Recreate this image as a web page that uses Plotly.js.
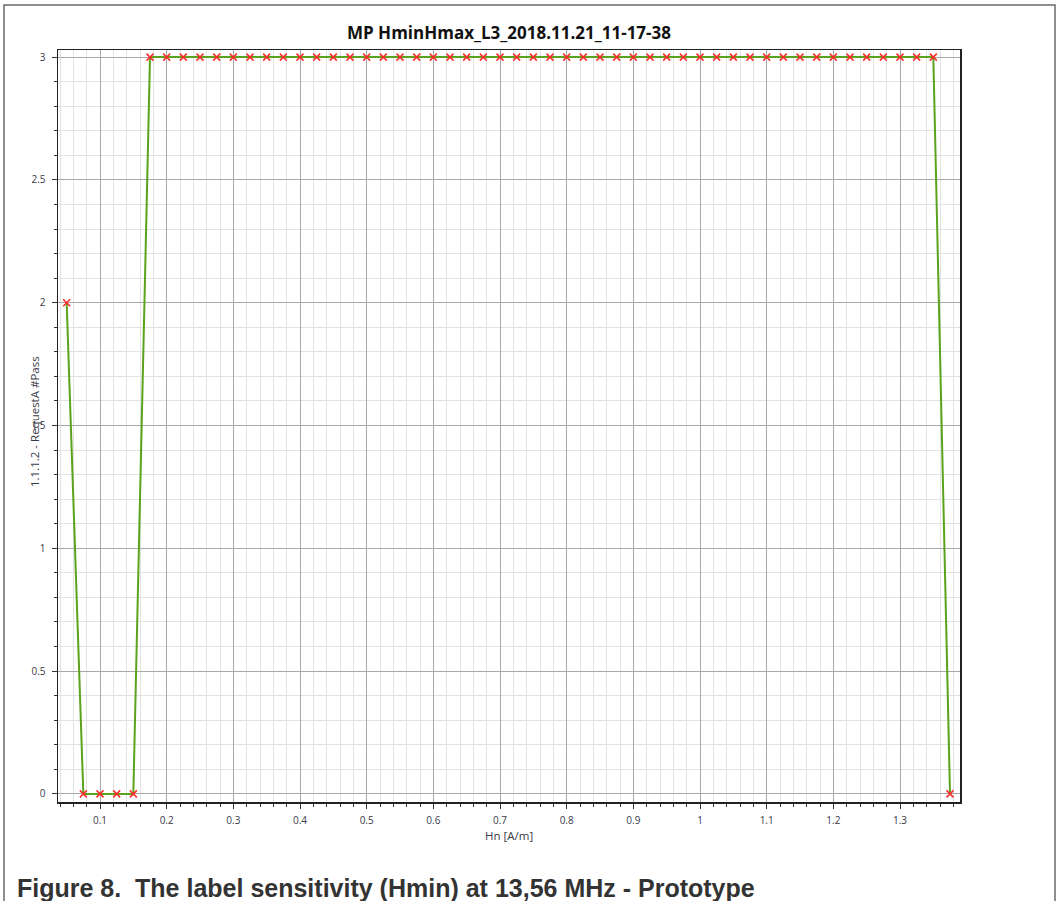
<!DOCTYPE html>
<html>
<head>
<meta charset="utf-8">
<script src="https://cdn.plot.ly/plotly-3.0.1.min.js"></script>
<style>
html,body{margin:0;padding:0;background:#fff;}
#chart{width:1061px;height:901px;}
</style>
</head>
<body>
<div id="chart"></div>
<script>
// Data
var hn = [0.05, 0.075, 0.1, 0.125, 0.15, 0.175, 0.2, 0.225, 0.25, 0.275,
          0.3, 0.325, 0.35, 0.375, 0.4, 0.425, 0.45, 0.475, 0.5, 0.525,
          0.55, 0.575, 0.6, 0.625, 0.65, 0.675, 0.7, 0.725, 0.75, 0.775,
          0.8, 0.825, 0.85, 0.875, 0.9, 0.925, 0.95, 0.975, 1.0, 1.025,
          1.05, 1.075, 1.1, 1.125, 1.15, 1.175, 1.2, 1.225, 1.25, 1.275,
          1.3, 1.325, 1.35, 1.375];
var passCount = [2, 0, 0, 0, 0, 3, 3, 3, 3, 3,
                 3, 3, 3, 3, 3, 3, 3, 3, 3, 3,
                 3, 3, 3, 3, 3, 3, 3, 3, 3, 3,
                 3, 3, 3, 3, 3, 3, 3, 3, 3, 3,
                 3, 3, 3, 3, 3, 3, 3, 3, 3, 3,
                 3, 3, 3, 0];
var chartTitle = "MP HminHmax_L3_2018.11.21_11-17-38";
var xTitle = "Hn [A/m]";
var yTitle = "1.1.1.2 - RequestA #Pass";
var caption = "Figure 8.  The label sensitivity (Hmin) at 13,56 MHz - Prototype";

// Layout geometry (pixels)
var W = 1061, H = 901;
var mL = 58, mR = 101, mT = 50, mB = 99;
var pw = W - mL - mR, ph = H - mT - mB;
function px(x){ return (x - mL) / pw; }
function py(y){ return (H - mB - y) / ph; }

var tickFont = {family: "Open Sans, Noto Sans, sans-serif", size: 10, color: "#3a3a48"};

var trace = {
  x: hn, y: passCount, type: "scatter", mode: "lines+markers",
  line: {color: "#5ba31c", width: 2},
  marker: {symbol: "x-thin", size: 7, color: "#ff2a2a", line: {color: "#ff2a2a", width: 1.5}},
  hoverinfo: "x+y"
};

var layout = {
  width: W, height: H,
  margin: {l: mL, r: mR, t: mT, b: mB, pad: 0},
  paper_bgcolor: "#ffffff",
  plot_bgcolor: "#ffffff",
  showlegend: false,
  title: {
    text: "<b>" + chartTitle + "</b>",
    font: {family: "Open Sans, Noto Sans, sans-serif", size: 17, color: "#111111"},
    x: 0.5, xref: "paper", xanchor: "center",
    y: 1 - 33 / H, yref: "container", yanchor: "middle"
  },
  xaxis: {
    range: [0.037, 1.39],
    tick0: 0, dtick: 0.1,
    ticks: "outside", ticklen: 5, tickwidth: 1, tickcolor: "#333333",
    tickfont: tickFont,
    ticklabelstandoff: 3,
    showgrid: true, gridcolor: "#a8a8a8", gridwidth: 1,
    minor: {tick0: 0, dtick: 0.02, ticks: "outside", ticklen: 3, tickcolor: "#333333",
            showgrid: true, gridcolor: "#e2e2e2", gridwidth: 1},
    showline: true, linecolor: "#222222", linewidth: 1.5, mirror: true,
    zeroline: false
  },
  yaxis: {
    range: [-0.033, 3.029],
    tick0: 0, dtick: 0.5,
    ticks: "outside", ticklen: 5, tickwidth: 1, tickcolor: "#333333",
    tickfont: tickFont,
    ticklabelstandoff: 4,
    showgrid: true, gridcolor: "#a8a8a8", gridwidth: 1,
    minor: {tick0: 0, dtick: 0.1, ticks: "outside", ticklen: 3, tickcolor: "#333333",
            showgrid: true, gridcolor: "#e2e2e2", gridwidth: 1},
    showline: true, linecolor: "#222222", linewidth: 1.5, mirror: true,
    zeroline: false
  },
  annotations: [
    {text: yTitle, xref: "paper", yref: "paper", x: px(34), y: py(422),
     xanchor: "center", yanchor: "middle", textangle: -90, showarrow: false,
     font: {family: "Open Sans, Noto Sans, sans-serif", size: 11.5, color: "#3a3a48"}},
    {text: xTitle, xref: "paper", yref: "paper", x: px(509), y: py(835),
     xanchor: "center", yanchor: "middle", showarrow: false,
     font: {family: "Open Sans, Noto Sans, sans-serif", size: 11.5, color: "#3a3a48"}},
    {text: "<b>" + caption + "</b>", xref: "paper", yref: "paper", x: px(15), y: py(888),
     xanchor: "left", yanchor: "middle", showarrow: false,
     font: {family: "Liberation Sans, Arial, sans-serif", size: 25, color: "#333333"}}
  ],
  shapes: [
    {type: "rect", xref: "paper", yref: "paper", layer: "below",
     x0: px(4), x1: px(1055), y0: py(920), y1: py(5),
     line: {color: "#6a6a6a", width: 1.5}, fillcolor: "rgba(0,0,0,0)"}
  ]
};

Plotly.newPlot("chart", [trace], layout, {displayModeBar: false, staticPlot: true});
</script>
</body>
</html>
